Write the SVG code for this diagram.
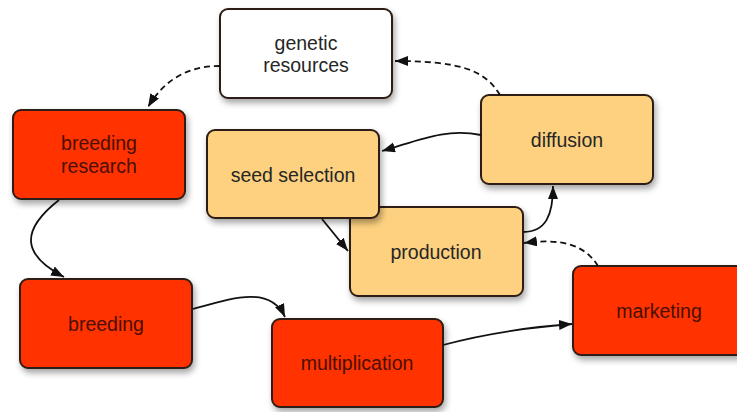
<svg xmlns="http://www.w3.org/2000/svg" width="737" height="412" viewBox="0 0 737 412">
<defs>
<filter id="sh" x="-20%" y="-20%" width="140%" height="150%">
<feDropShadow dx="2" dy="4" stdDeviation="3" flood-color="#000" flood-opacity="0.35"/>
</filter>
<marker id="ah" markerUnits="userSpaceOnUse" markerWidth="14" markerHeight="12" refX="13" refY="5" orient="auto">
<path d="M0,0 L13,5 L0,10 Z" fill="#111"/>
</marker>
</defs>
<style>
.box{stroke:#2e1d12;stroke-width:2;filter:url(#sh)}
.red{fill:#ff3100}
.yel{fill:#fdd17f}
.wht{fill:#fff}
text{font-family:"Liberation Sans",Arial,sans-serif;font-size:19.5px;text-anchor:middle}
.tr{fill:#4a1005}
.tk{fill:#262626}
.c{fill:none;stroke:#111;stroke-width:1.8;marker-end:url(#ah)}
.d{stroke-dasharray:6 4}
</style>
<rect width="737" height="412" fill="#fff"/>
<g id="genetic-resources">
<rect class="box wht" x="220" y="9" width="172" height="89" rx="8"/>
<text class="tk" x="306" y="50">genetic</text>
<text class="tk" x="306" y="72">resources</text>
</g>
<g id="breeding-research">
<rect class="box red" x="13" y="110" width="172" height="89" rx="8"/>
<text class="tr" x="99" y="150">breeding</text>
<text class="tr" x="99" y="173">research</text>
</g>
<g id="diffusion">
<rect class="box yel" x="481" y="95" width="172" height="89" rx="8"/>
<text class="tk" x="567" y="147">diffusion</text>
</g>
<g id="production">
<rect class="box yel" x="350" y="207" width="173" height="89" rx="8"/>
<text class="tk" x="436" y="259">production</text>
</g>
<g id="seed-selection">
<rect class="box yel" x="207" y="130" width="172" height="88" rx="8"/>
<text class="tk" x="293" y="182">seed selection</text>
</g>
<g id="breeding">
<rect class="box red" x="20" y="279" width="172" height="89" rx="8"/>
<text class="tr" x="106" y="331">breeding</text>
</g>
<g id="multiplication">
<rect class="box red" x="272" y="319" width="171" height="88" rx="8"/>
<text class="tr" x="357" y="370">multiplication</text>
</g>
<g id="marketing">
<rect class="box red" x="573" y="266" width="172" height="89" rx="8"/>
<text class="tr" x="659" y="318">marketing</text>
</g>
<g id="connectors">
<path class="c d" d="M220,66 C185,66 163,82 148,107"/>
<path class="c d" d="M500,95 C485,70 460,61 395,61"/>
<path class="c" d="M481,135 C445,128 420,140 382,151"/>
<path class="c" d="M523,232 C546,232 553,215 553,186"/>
<path class="c d" d="M598,266 C585,245 562,238 524,243"/>
<path class="c" d="M322,219 L348,251"/>
<path class="c" d="M59,200 C18,232 24,256 64,277"/>
<path class="c" d="M193,309 C232,298 270,285 285,317"/>
<path class="c" d="M443,345 C480,335 520,328 572,324"/>
</g>
</svg>
